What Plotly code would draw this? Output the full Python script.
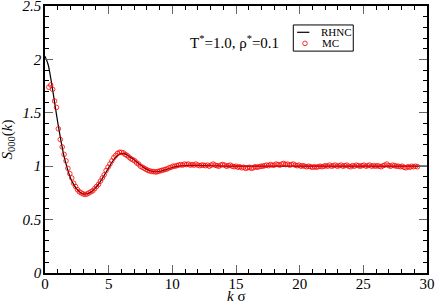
import plotly.graph_objects as go

# RHNC theory curve
k_rhnc = [0.0, 0.25, 0.5, 0.75, 1.0, 1.25, 1.5, 1.75, 2.0, 2.25,
          2.5, 2.75, 3.0, 3.25, 3.5, 3.75, 4.0, 4.25, 4.5, 4.75,
          5.0, 5.25, 5.5, 5.75, 6.0, 6.25, 6.5, 6.75, 7.0, 7.25,
          7.5, 7.75, 8.0, 8.25, 8.5, 8.75, 9.0, 9.25, 9.5, 9.75,
          10.0, 10.5, 11.0, 11.5, 12.0, 13.0, 14.0, 16.0, 18.0, 20.0,
          22.0, 24.0, 26.0, 28.0, 30.0]
s_rhnc = [2.03, 1.95, 1.79, 1.60, 1.41, 1.24, 1.09, 0.98, 0.89, 0.83,
          0.785, 0.755, 0.74, 0.74, 0.75, 0.77, 0.80, 0.84, 0.885, 0.935,
          0.985, 1.035, 1.075, 1.105, 1.12, 1.115, 1.10, 1.08, 1.06, 1.035,
          1.01, 0.99, 0.97, 0.957, 0.95, 0.948, 0.952, 0.96, 0.968, 0.978,
          0.988, 1.0, 1.006, 1.008, 1.007, 1.004, 1.001, 1.0, 1.0, 1.0,
          1.0, 1.0, 1.0, 1.0, 1.0]

# MC simulation points
k_mc = [0.30, 0.45, 0.60, 0.75, 0.90, 1.05, 1.20, 1.35, 1.50, 1.65,
        1.80, 1.95, 2.10, 2.25, 2.40, 2.55, 2.70, 2.85, 3.00, 3.15,
        3.30, 3.45, 3.60, 3.75, 3.90, 4.05, 4.20, 4.35, 4.50, 4.65,
        4.80, 4.95, 5.10, 5.25, 5.40, 5.55, 5.70, 5.85, 6.00, 6.15,
        6.30, 6.45, 6.60, 6.75, 6.90, 7.05, 7.20, 7.35, 7.50, 7.65,
        7.80, 7.95, 8.10, 8.25, 8.40, 8.55, 8.70, 8.85, 9.00, 9.15,
        9.30, 9.45, 9.60, 9.75, 9.90, 10.05, 10.20, 10.35, 10.50, 10.65,
        10.80, 10.95, 11.10, 11.25, 11.40, 11.55, 11.70, 11.85, 12.00, 12.15,
        12.30, 12.45, 12.60, 12.75, 12.90, 13.05, 13.20, 13.35, 13.50, 13.65,
        13.80, 13.95, 14.10, 14.25, 14.40, 14.55, 14.70, 14.85, 15.00, 15.15,
        15.30, 15.45, 15.60, 15.75, 15.90, 16.05, 16.20, 16.35, 16.50, 16.65,
        16.80, 16.95, 17.10, 17.25, 17.40, 17.55, 17.70, 17.85, 18.00, 18.15,
        18.30, 18.45, 18.60, 18.75, 18.90, 19.05, 19.20, 19.35, 19.50, 19.65,
        19.80, 19.95, 20.10, 20.25, 20.40, 20.55, 20.70, 20.85, 21.00, 21.15,
        21.30, 21.45, 21.60, 21.75, 21.90, 22.05, 22.20, 22.35, 22.50, 22.65,
        22.80, 22.95, 23.10, 23.25, 23.40, 23.55, 23.70, 23.85, 24.00, 24.15,
        24.30, 24.45, 24.60, 24.75, 24.90, 25.05, 25.20, 25.35, 25.50, 25.65,
        25.80, 25.95, 26.10, 26.25, 26.40, 26.55, 26.70, 26.85, 27.00, 27.15,
        27.30, 27.45, 27.60, 27.75, 27.90, 28.05, 28.20, 28.35, 28.50, 28.65,
        28.80, 28.95, 29.10, 29.25]
s_mc = [1.74, 1.76, 1.72, 1.61, 1.55, 1.35, 1.25, 1.18, 1.11, 1.05,
        0.98, 0.93, 0.89, 0.84, 0.81, 0.78, 0.76, 0.75, 0.74, 0.735,
        0.74, 0.75, 0.76, 0.77, 0.79, 0.81, 0.83, 0.86, 0.89, 0.92,
        0.96, 0.99, 1.02, 1.05, 1.08, 1.10, 1.12, 1.13, 1.13, 1.125,
        1.11, 1.10, 1.085, 1.07, 1.06, 1.05, 1.03, 1.02, 1.00, 0.99,
        0.98, 0.97, 0.96, 0.955, 0.95, 0.95, 0.945, 0.95, 0.955, 0.96,
        0.965, 0.97, 0.975, 0.985, 0.99, 1.00, 1.00, 1.005, 1.01, 1.015,
        1.01, 1.02, 1.015, 1.02, 1.01, 1.015, 1.01, 1.02, 1.01, 1.005,
        1.01, 1.01, 1.005, 1.01, 1.00, 1.01, 1.02, 1.01, 1.005, 1.00,
        1.01, 1.015, 1.01, 1.00, 1.005, 1.01, 1.00, 0.995, 1.00, 0.99,
        0.995, 0.985, 0.99, 0.98, 0.985, 0.99, 0.98, 0.985, 0.995, 0.99,
        0.995, 1.00, 1.00, 1.005, 1.01, 1.005, 1.015, 1.01, 1.01, 1.02,
        1.015, 1.01, 1.02, 1.025, 1.015, 1.02, 1.01, 1.015, 1.02, 1.01,
        1.005, 1.01, 1.00, 1.005, 1.00, 0.995, 1.00, 0.995, 0.99, 0.995,
        0.99, 0.995, 1.00, 0.995, 1.00, 1.005, 1.00, 1.01, 1.00, 1.005,
        1.01, 1.00, 1.005, 1.01, 1.00, 1.005, 1.01, 1.00, 0.995, 1.005,
        1.00, 1.01, 1.005, 1.00, 1.005, 1.01, 1.00, 1.005, 1.01, 1.00,
        1.005, 1.00, 1.005, 1.00, 0.995, 1.005, 1.01, 1.02, 1.005, 1.00,
        1.01, 1.005, 1.00, 1.00, 0.995, 1.00, 0.99, 0.985, 0.995, 0.99,
        1.00, 0.995, 1.00, 0.995]

x_ticks = [0, 5, 10, 15, 20, 25, 30]
y_ticks = [0, 0.5, 1, 1.5, 2, 2.5]
y_ticklabels = ["<i>0</i>", "<i>0.5</i>", "<i>1</i>", "<i>1.5</i>", "<i>2</i>", "<i>2.5</i>"]
series_names = ["RHNC", "MC"]

FONT = "Liberation Serif, Times New Roman, serif"

fig = go.Figure()
fig.add_trace(go.Scatter(x=k_rhnc, y=s_rhnc, mode="lines", name=series_names[0],
                         line=dict(color="black", width=1.2, shape="spline", smoothing=0.8)))
fig.add_trace(go.Scatter(x=k_mc, y=s_mc, mode="markers", name=series_names[1],
                         marker=dict(symbol="circle-open", size=4.6, color="red",
                                     line=dict(width=0.8, color="red"))))

axis_common = dict(showline=True, linecolor="black", linewidth=1.5, mirror="allticks",
                   ticks="inside", ticklen=8, tickwidth=1, tickcolor="#666",
                   showgrid=False, zeroline=False, automargin=False,
                   ticklabeloverflow="allow")

fig.update_xaxes(range=[0, 30], tickvals=x_ticks,
                 tickfont=dict(family=FONT, size=15, color="black"),
                 minor=dict(ticks="inside", ticklen=4, dtick=1, tickcolor="black", tickwidth=1),
                 ticklabelstandoff=-4,
                 **axis_common)
fig.update_yaxes(range=[0, 2.5], tickvals=y_ticks, ticktext=y_ticklabels,
                 tickfont=dict(family=FONT, size=15, color="black"),
                 minor=dict(ticks="inside", ticklen=4, dtick=0.1, tickcolor="black", tickwidth=1),
                 ticklabelstandoff=-1,
                 **axis_common)

# axis titles
fig.add_annotation(x=0.5, y=0, xref="paper", yref="paper", yshift=-13, yanchor="top",
                   text="<i>k</i> σ", showarrow=False,
                   font=dict(family=FONT, size=15, color="black"))
fig.add_annotation(x=0, y=0.5, xref="paper", yref="paper", xshift=-38, xanchor="center",
                   textangle=-90, text="<i>S</i><sub>000</sub>(<i>k</i>)", showarrow=False,
                   font=dict(family=FONT, size=15, color="black"))

fig.add_annotation(x=0.497, y=0.905, xref="paper", yref="paper",
                   text="T<sup>*</sup>=1.0, ρ<sup>*</sup>=0.1", showarrow=False,
                   font=dict(family=FONT, size=15, color="black"))

# legend box (drawn by hand to match the compact original)
fig.add_shape(type="rect", xref="paper", yref="paper", x0=0.650, x1=0.807, y0=0.831, y1=0.929,
              line=dict(color="black", width=1), fillcolor="white", layer="above")
fig.add_shape(type="line", xref="paper", yref="paper", x0=0.660, x1=0.692, y0=0.9015, y1=0.9015,
              line=dict(color="black", width=1.2), layer="above")
fig.add_shape(type="circle", xref="paper", yref="paper", xsizemode="pixel", ysizemode="pixel",
              xanchor=0.6806, yanchor=0.860, x0=-2.3, x1=2.3, y0=-2.3, y1=2.3,
              line=dict(color="red", width=0.8), layer="above")
fig.add_annotation(x=0.716, y=0.9015, xref="paper", yref="paper", xanchor="left", yanchor="middle",
                   text=series_names[0], showarrow=False,
                   font=dict(family=FONT, size=11, color="black"))
fig.add_annotation(x=0.720, y=0.860, xref="paper", yref="paper", xanchor="left", yanchor="middle",
                   text=series_names[1], showarrow=False,
                   font=dict(family=FONT, size=11, color="black"))

fig.update_layout(width=436, height=304,
                  margin=dict(l=45, r=9, t=6, b=31, autoexpand=False),
                  font=dict(family=FONT, color="black"),
                  paper_bgcolor="white", plot_bgcolor="white",
                  showlegend=False)

fig.write_html("out.html", config={"displayModeBar": False},
               post_script="document.body.style.margin='0';document.body.style.overflow='hidden';")
